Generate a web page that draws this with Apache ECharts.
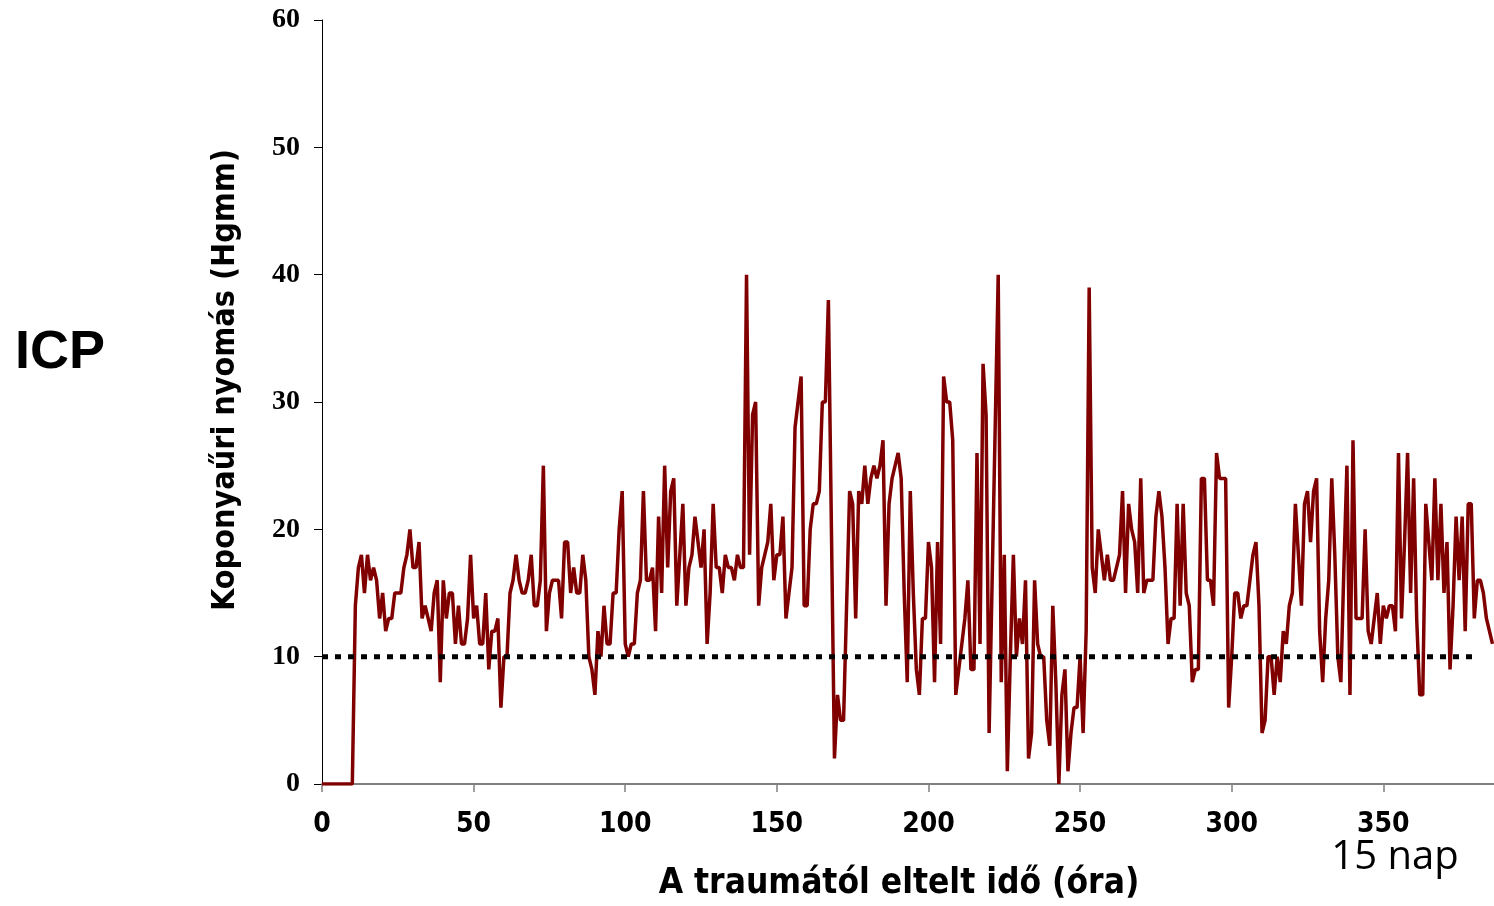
<!DOCTYPE html>
<html>
<head>
<meta charset="utf-8">
<title>ICP</title>
<script src="https://cdn.jsdelivr.net/npm/echarts@6/dist/echarts.min.js"></script>
<style>
  html, body { margin: 0; padding: 0; background: #fff; }
  #chart-container { width: 1494px; height: 906px; }
</style>
</head>
<body>
<div id="chart-container"></div>
<script>
// ICP (Hgmm), one reading per hour after the trauma, hour 0 .. 386
const icpValues = [
  0,
  0, 0, 0, 0, 0, 0, 0, 0, 0, 0,
  14, 17, 18, 15, 18, 16, 17, 16, 13, 15,
  12, 13, 13, 15, 15, 15, 17, 18, 20, 17,
  17, 19, 13, 14, 13, 12, 15, 16, 8, 16,
  13, 15, 15, 11, 14, 11, 11, 13, 18, 13,
  14, 11, 11, 15, 9, 12, 12, 13, 6, 10,
  10, 15, 16, 18, 16, 15, 15, 16, 18, 14,
  14, 16, 25, 12, 15, 16, 16, 16, 13, 19,
  19, 15, 17, 15, 15, 18, 16, 10, 9, 7,
  12, 10, 14, 11, 11, 15, 15, 20, 23, 11,
  10, 11, 11, 15, 16, 23, 16, 16, 17, 12,
  21, 15, 25, 17, 23, 24, 14, 18, 22, 14,
  17, 18, 21, 19, 17, 20, 11, 15, 22, 17,
  17, 15, 18, 17, 17, 16, 18, 17, 17, 40,
  18, 29, 30, 14, 17, 18, 19, 22, 16, 18,
  18, 21, 13, 15, 17, 28, 30, 32, 14, 14,
  20, 22, 22, 23, 30, 30, 38, 20, 2, 7,
  5, 5, 14, 23, 22, 13, 23, 22, 25, 22,
  24, 25, 24, 25, 27, 14, 22, 24, 25, 26,
  24, 15, 8, 23, 15, 9, 7, 13, 13, 19,
  17, 8, 19, 11, 32, 30, 30, 27, 7, 9,
  11, 13, 16, 9, 9, 26, 11, 33, 29, 4,
  16, 28, 40, 8, 18, 1, 10, 18, 10, 13,
  11, 16, 2, 4, 16, 11, 10, 10, 5, 3,
  14, 8, 0, 7, 9, 1, 4, 6, 6, 10,
  4, 12, 39, 17, 15, 20, 18, 16, 18, 16,
  16, 17, 18, 23, 15, 22, 20, 19, 15, 24,
  15, 16, 16, 16, 21, 23, 21, 17, 11, 13,
  13, 22, 14, 22, 15, 14, 8, 9, 9, 24,
  24, 16, 16, 14, 26, 24, 24, 24, 6, 10,
  15, 15, 13, 14, 14, 16, 18, 19, 14, 4,
  5, 10, 10, 7, 10, 8, 12, 11, 14, 15,
  22, 18, 14, 22, 23, 19, 23, 24, 12, 8,
  13, 16, 24, 18, 10, 8, 17, 25, 7, 27,
  13, 13, 13, 20, 12, 11, 13, 15, 11, 14,
  13, 14, 14, 12, 26, 13, 19, 26, 15, 24,
  13, 7, 7, 22, 19, 16, 24, 16, 22, 15,
  19, 9, 14, 21, 16, 21, 12, 22, 22, 13,
  16, 16, 15, 13, 12, 11
];

// dotted 10 Hgmm threshold and where it stops
const thresholdLevel = 10;
const thresholdHours = [0, 381];

const xLabelText = "A traumától eltelt idő (óra)";
const yLabelText = "Koponyaűri nyomás (Hgmm)";
const sideTitle = "ICP";
const dayNote = "15 nap";

const boldSans = '"Liberation Sans Narrow", "DejaVu Sans Condensed", "DejaVu Sans", sans-serif';

let dom = document.getElementById("chart-container");
let myChart = echarts.init(dom, null, { renderer: "canvas" });

const icpData = icpValues.map((v, i) => [i, v]);
const thresholdData = thresholdHours.map((h) => [h, thresholdLevel]);

let option = {
  animation: false,
  backgroundColor: "#fff",
  grid: { left: 322, right: 0, top: 20, bottom: 122, containLabel: false },
  xAxis: {
    type: "value",
    min: 0,
    max: 386.5,
    interval: 50,
    axisLine: { lineStyle: { color: "#808080", width: 2 } },
    axisTick: { length: 8, lineStyle: { color: "#808080", width: 1.5 } },
    axisLabel: {
      showMaxLabel: false,
      margin: 27,
      color: "#000",
      fontFamily: boldSans,
      fontWeight: "bold",
      fontSize: 28,
    },
    splitLine: { show: false },
  },
  yAxis: {
    type: "value",
    min: 0,
    max: 60,
    interval: 10,
    axisLine: { show: true, lineStyle: { color: "#000", width: 1 } },
    axisTick: { show: true, length: 8, lineStyle: { color: "#000", width: 1 } },
    axisLabel: {
      margin: 22,
      color: "#000",
      fontFamily: '"Liberation Serif", "Times New Roman", serif',
      fontWeight: "bold",
      fontSize: 28,
    },
    splitLine: { show: false },
  },
  series: [
    {
      type: "line",
      data: icpData,
      showSymbol: false,
      lineStyle: { color: "#800000", width: 3.5 },
      z: 3,
    },
    {
      type: "line",
      data: thresholdData,
      showSymbol: false,
      lineStyle: { color: "#000", width: 5, type: [6, 7] },
      z: 4,
    },
  ],
  graphic: [
    {
      type: "text",
      x: 15,
      y: 353,
      style: {
        text: sideTitle,
        font: 'bold 54px "Liberation Sans", Arial, sans-serif',
        fill: "#000",
        textAlign: "left",
        textVerticalAlign: "middle",
        align: "left",
        verticalAlign: "middle",
      },
    },
    {
      type: "text",
      x: 226,
      y: 380,
      rotation: Math.PI / 2,
      style: {
        text: yLabelText,
        font: "bold 32px " + boldSans,
        fill: "#000",
        textAlign: "center",
        textVerticalAlign: "middle",
        align: "center",
        verticalAlign: "middle",
      },
    },
    {
      type: "text",
      x: 899,
      y: 884,
      style: {
        text: xLabelText,
        font: "bold 35px " + boldSans,
        fill: "#000",
        textAlign: "center",
        textVerticalAlign: "middle",
        align: "center",
        verticalAlign: "middle",
      },
    },
    {
      type: "text",
      x: 1395,
      y: 858,
      style: {
        text: dayNote,
        font: '40px "Open Sans", "Noto Sans", sans-serif',
        fill: "#000",
        textAlign: "center",
        textVerticalAlign: "middle",
        align: "center",
        verticalAlign: "middle",
      },
    },
  ],
};

myChart.setOption(option);

window.addEventListener("resize", function () {
  if (myChart) {
    myChart.resize();
  }
});
</script>
</body>
</html>
